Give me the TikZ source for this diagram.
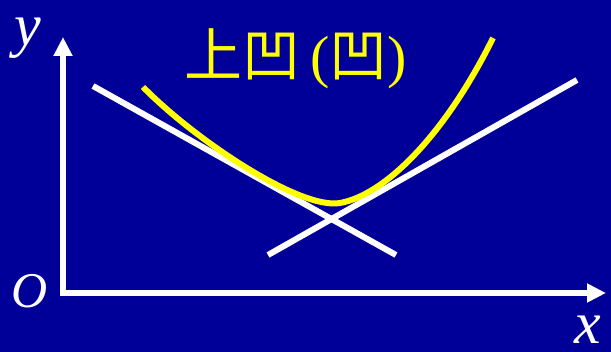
\documentclass[tikz,border=0pt]{standalone}
\usepackage{fontspec}
\setmainfont{Liberation Serif}
\newfontfamily\cjk{Noto Sans CJK SC}
\usetikzlibrary{arrows.meta}
\definecolor{bgblue}{RGB}{0,0,153}
\definecolor{curveyellow}{RGB}{255,255,0}
\begin{document}
\begin{tikzpicture}[x=1pt,y=-1pt,
  axis/.style={draw=white,line width=6pt,-{Triangle[width=18pt,length=19pt]}},
  tangent/.style={draw=white,line width=6pt},
  curve/.style={draw=curveyellow,line width=6pt},
  axlabel/.style={text=white,inner sep=0pt,anchor=base}]
\fill[bgblue] (0,0) rectangle (611,352);
\useasboundingbox (0,0) rectangle (611,352);
% axes
\coordinate (O) at (63,293);
\coordinate (ytip) at (63,37);
\coordinate (xtip) at (606,293);
\draw[axis] (63,296) -- (ytip);
\draw[axis] (60,293) -- (xtip);
\node[axlabel,font=\itshape\fontsize{60}{60}\selectfont] (ylab) at (28,46) {y};
\node[axlabel,font=\itshape\fontsize{50}{50}\selectfont] (olab) at (30,308) {O};
\node[axlabel,text depth=0pt,font=\itshape\fontsize{60}{60}\selectfont] (xlab) at (588,344) {x};
% tangents
\coordinate (a1) at (93,86);
\coordinate (a2) at (396,255);
\coordinate (b1) at (268,255);
\coordinate (b2) at (577,80);
\draw[tangent] (a1) -- (a2);
\draw[tangent] (b1) -- (b2);
% curve
\coordinate (c0) at (143,87);
\coordinate (cm) at (340,203);
\coordinate (c1) at (493,38);
\draw[curve] (c0) .. controls (195,140) and (300,210) .. (cm)
  .. controls (385,195) and (445,135) .. (c1);
% title
\node[text=curveyellow,inner sep=0pt,anchor=base,font=\fontsize{58}{58}\selectfont] (title) at (296,77) {{\cjk 上凹}\,({\cjk 凹})};
\end{tikzpicture}
\end{document}
